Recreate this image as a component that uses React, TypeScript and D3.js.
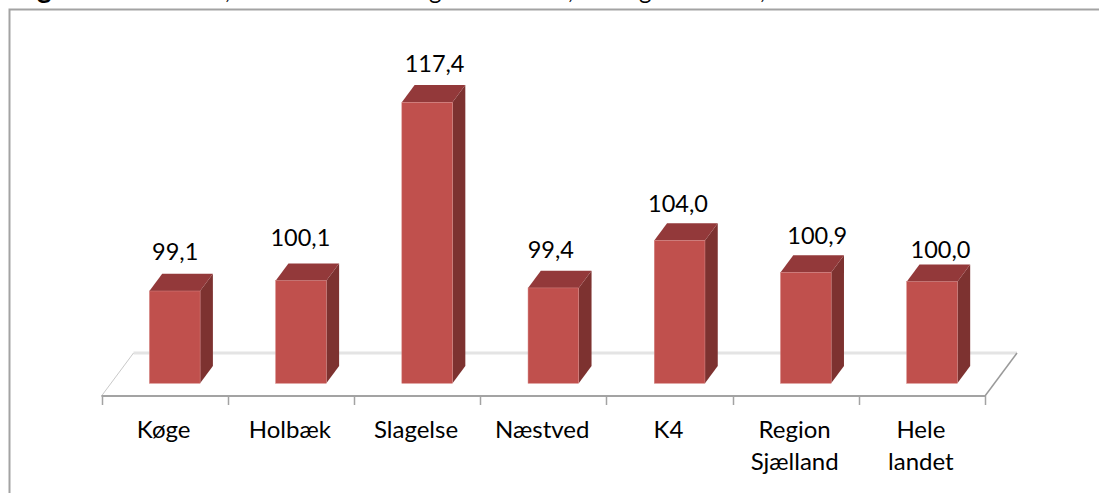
import React from "react";
import * as d3 from "d3";

const categories = ["Køge", "Holbæk", "Slagelse", "Næstved", "K4", "Region Sjælland", "Hele landet"];
const values = [99.1, 100.1, 117.4, 99.4, 104.0, 100.9, 100.0];
const labelDx = [-6, -7, 1, -9, -8, 5, 2];
const labelDy = [-3, -7, -2, -2, 0, 0, 4];
const clippedTitleGlyphs = [
  { text: "g", x: 37, bold: true },
  { text: ",", x: 225, bold: false },
  { text: "g", x: 429, bold: false },
  { text: ",", x: 568, bold: false },
  { text: "g", x: 639, bold: false },
  { text: ",", x: 760, bold: false },
];

const FONT = "Lato, Carlito, Calibri, sans-serif";
const axisY = 396;
const baseY = 383.3;
const depthX = 12.8;
const depthY = 17.2;
const floorX = 32;
const floorY = 43;
const barW = 50.7;

const x = d3.scaleBand<string>().domain(categories).range([101.5, 985]);
const y = d3.scaleLinear().domain([90.15, 117.4]).range([baseY, 102.3]);
const fmt = (v: number) => d3.format(".1f")(v).replace(".", ",");

const labelLines: Record<string, string[]> = {
  "Region Sjælland": ["Region", "Sjælland"],
  "Hele landet": ["Hele", "landet"],
};

export default function App() {
  const x0 = x(categories[0])!;
  const xEnd = x0 + x.step() * categories.length;
  return (
    <svg
      width={1099}
      height={493}
      style={{ position: "absolute", left: 0, top: 0, background: "#fff", fontFamily: FONT }}
    >
      {clippedTitleGlyphs.map((g, i) => (
        <text key={i} x={g.x} y={g.bold ? -2 : -1} fontSize={g.bold ? 28 : 24} fontWeight={g.bold ? 700 : 400} fill="#000">
          {g.text}
        </text>
      ))}
      <path d="M1099,9.5 H9.5 V493" fill="none" stroke="#a3a3a3" strokeWidth={2} />

      {/* floor */}
      <path d={`M${x0 + floorX},${axisY - floorY} H${xEnd + floorX}`} stroke="#e4e4e4" strokeWidth={3} fill="none" />
      <path d={`M${x0},${axisY} L${x0 + floorX},${axisY - floorY}`} stroke="#c9c9c9" strokeWidth={1} fill="none" />
      <path d={`M${xEnd},${axisY} L${xEnd + floorX},${axisY - floorY}`} stroke="#9a9a9a" strokeWidth={1.5} fill="none" />
      <path d={`M${x0},${axisY} H${xEnd}`} stroke="#a3a3a3" strokeWidth={2} fill="none" />
      {d3.range(categories.length + 1).map((i) => {
        const tx = Math.round(x0 + i * x.step()) + 0.5;
        return <line key={i} x1={tx} x2={tx} y1={axisY} y2={405} stroke="#a3a3a3" strokeWidth={1.5} />;
      })}

      {/* bars */}
      {categories.map((c, i) => {
        const l = x(c)! + 47.9;
        const r = l + barW;
        const t = y(values[i]);
        return (
          <g key={c}>
            <path
              d={`M${r},${baseY} L${r + depthX},${baseY - depthY} V${t - depthY} L${r},${t} Z`}
              fill="#7d3230"
            />
            <path
              d={`M${l},${t} L${l + depthX},${t - depthY} H${r + depthX} L${r},${t} Z`}
              fill="#93393a"
            />
            <rect x={l} y={t} width={barW} height={baseY - t} fill="#c0504d" stroke="#d58583" strokeWidth={0.5} />
            <text
              x={l + (barW + depthX) / 2 + labelDx[i]}
              y={t - 28 + labelDy[i]}
              textAnchor="middle"
              fontSize={23.5}
              fill="#000"
            >
              {fmt(values[i])}
            </text>
          </g>
        );
      })}

      {/* category labels */}
      {categories.map((c) => {
        const lines = labelLines[c] ?? [c];
        return (
          <text key={c} textAnchor="middle" fontSize={24} fill="#000">
            {lines.map((ln, j) => (
              <tspan key={j} x={x(c)! + x.bandwidth() / 2 - 1} y={438 + j * 32}>
                {ln}
              </tspan>
            ))}
          </text>
        );
      })}
    </svg>
  );
}
